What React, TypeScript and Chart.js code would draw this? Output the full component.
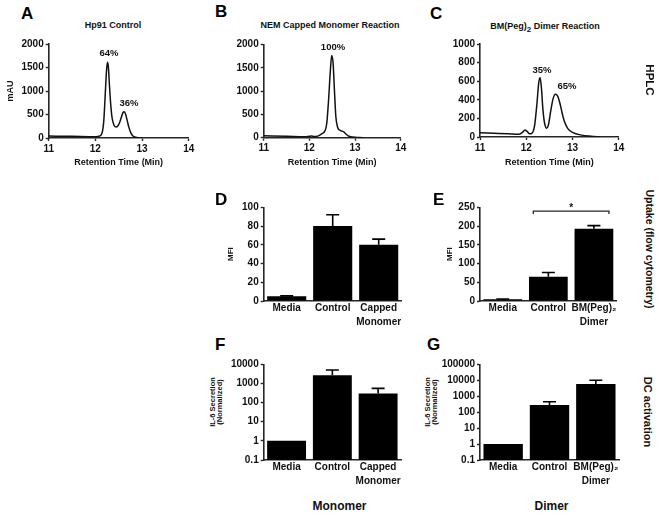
import React, { useEffect, useRef } from "react";
import { Chart, registerables } from "chart.js";

Chart.register(...registerables);

const FONT = "'Liberation Sans', Arial, Helvetica, sans-serif";
const INK = "#111111";
const AXIS = "#262626";

// ---------- HPLC traces (retention time in min, absorbance in mAU) ----------
const aTime = [11.0, 11.5, 12.0, 12.1, 12.15, 12.18, 12.21, 12.24, 12.26, 12.28, 12.3, 12.33, 12.36, 12.4, 12.44, 12.48, 12.52, 12.56, 12.59, 12.62, 12.65, 12.68, 12.72, 12.76, 12.8, 12.86, 12.95, 13.0];
const aMAU = [40, 35, 28, 45, 130, 360, 900, 1450, 1610, 1500, 1150, 700, 420, 270, 235, 255, 330, 450, 540, 560, 500, 380, 220, 110, 50, 15, 3, 0];

const bTime = [11.0, 11.5, 11.9, 12.0, 12.05, 12.1, 12.2, 12.28, 12.33, 12.38, 12.42, 12.46, 12.49, 12.52, 12.55, 12.58, 12.62, 12.67, 12.72, 12.76, 12.8, 12.85, 12.95, 13.1, 13.2];
const bMAU = [40, 30, 20, 30, 35, 25, 40, 90, 130, 300, 800, 1450, 1770, 1600, 1000, 450, 220, 160, 140, 120, 80, 40, 15, 5, 0];

const cTime = [11.0, 11.3, 11.6, 11.85, 11.92, 11.97, 12.02, 12.07, 12.12, 12.18, 12.23, 12.27, 12.3, 12.33, 12.36, 12.4, 12.44, 12.48, 12.53, 12.58, 12.63, 12.68, 12.73, 12.78, 12.83, 12.9, 13.0, 13.2, 13.4, 13.6];
const cMAU = [45, 40, 35, 30, 50, 75, 60, 35, 40, 120, 350, 580, 640, 520, 300, 140, 95, 130, 280, 410, 460, 440, 360, 250, 160, 90, 50, 20, 8, 0];

// ---------- Uptake (MFI) ----------
const monomerCats = [["Media"], ["Control"], ["Capped", "Monomer"]];
const dimerCats = [["Media"], ["Control"], ["BM(Peg)\u2082", "Dimer"]];
const dMFI = [5, 80, 60];
const dErr = [0.5, 12, 6];
const eMFI = [5, 65, 193];
const eErr = [0.5, 11, 8];
const eBracket = { from: 1, to: 2, value: 240, label: "*" };

// ---------- IL-6 secretion (normalized) ----------
const fIL6 = [1, 2700, 300];
const fErr = [0, 2300, 250];
const gIL6 = [1, 280, 5800];
const gErr = [0, 170, 4200];
const fTicks = [0.1, 1, 10, 100, 1000, 10000];
const fTickLabels = ["0.1", "1", "10", "100", "1000", "10000"];
const gTicks = [0.1, 1, 10, 100, 1000, 10000, 100000];
const gTickLabels = ["0.1", "1", "10", "100", "1000", "10000", "100000"];

// ---------- peak annotations ----------
const peakLabelsA = ["64%", "36%"];
const peakLabelsB = ["100%"];
const peakLabelsC = ["35%", "65%"];

type Dims = { yWidth: number; xHeight: number; padding: any };

const tickFont = { family: FONT, size: 10, weight: "bold" as const };
const titleFont = { family: FONT, size: 9, weight: "bold" as const };
const plain = (v: any) => String(v);

function axisBase() {
  return {
    grid: { display: true, drawOnChartArea: false, drawTicks: true, tickLength: 3, tickColor: AXIS, tickWidth: 1.4 },
    border: { display: true, color: AXIS, width: 1.6 },
  };
}

function lineConfig(xs: number[], ys: number[], yMax: number, yStep: number, yTitle: string | null, d: Dims): any {
  return {
    type: "line",
    data: {
      datasets: [
        {
          data: xs.map((x, i) => ({ x, y: ys[i] })),
          borderColor: INK,
          borderWidth: 1.5,
          pointRadius: 0,
          fill: false,
          cubicInterpolationMode: "monotone",
        },
      ],
    },
    options: {
      responsive: false,
      animation: false,
      devicePixelRatio: 1,
      layout: { padding: d.padding },
      plugins: { legend: { display: false }, tooltip: { enabled: false } },
      scales: {
        x: {
          type: "linear",
          min: 11,
          max: 14,
          ...axisBase(),
          ticks: { stepSize: 1, font: tickFont, color: INK, padding: 2, maxRotation: 0, callback: plain },
          title: { display: true, text: "Retention Time (Min)", font: titleFont, color: INK, padding: 0 },
          afterFit: (s: any) => {
            s.height = d.xHeight;
          },
        },
        y: {
          type: "linear",
          min: 0,
          max: yMax,
          ...axisBase(),
          ticks: { stepSize: yStep, font: tickFont, color: INK, padding: 2, callback: plain },
          title: { display: !!yTitle, text: yTitle || "", font: titleFont, color: INK, padding: 0 },
          afterFit: (s: any) => {
            s.width = d.yWidth;
          },
        },
      },
    },
  };
}

function errorBarPlugin(vals: number[], errs: number[]) {
  return {
    id: "errbars",
    afterDatasetsDraw(chart: any) {
      const ctx = chart.ctx;
      const meta = chart.getDatasetMeta(0);
      const ys = chart.scales.y;
      ctx.save();
      ctx.strokeStyle = "#000";
      ctx.lineWidth = 1.6;
      meta.data.forEach((el: any, i: number) => {
        if (!errs[i]) return;
        const top = ys.getPixelForValue(vals[i] + errs[i]);
        const base = ys.getPixelForValue(vals[i]);
        const half = 6.5;
        ctx.beginPath();
        ctx.moveTo(el.x, base);
        ctx.lineTo(el.x, top);
        ctx.moveTo(el.x - half, top);
        ctx.lineTo(el.x + half, top);
        ctx.stroke();
      });
      ctx.restore();
    },
  };
}

function bracketPlugin(br: { from: number; to: number; value: number; label: string }) {
  return {
    id: "bracket",
    afterDatasetsDraw(chart: any) {
      const ctx = chart.ctx;
      const xs = chart.scales.x;
      const ys = chart.scales.y;
      const step = xs.getPixelForValue(1) - xs.getPixelForValue(0);
      const x1 = xs.getPixelForValue(br.from) - step * 0.33;
      const x2 = xs.getPixelForValue(br.to) + step * 0.33;
      const y = ys.getPixelForValue(br.value);
      ctx.save();
      ctx.strokeStyle = AXIS;
      ctx.lineWidth = 1.3;
      ctx.beginPath();
      ctx.moveTo(x1, y + 3);
      ctx.lineTo(x1, y);
      ctx.lineTo(x2, y);
      ctx.lineTo(x2, y + 3);
      ctx.stroke();
      ctx.fillStyle = INK;
      ctx.font = `bold 10px ${FONT}`;
      ctx.textAlign = "center";
      ctx.textBaseline = "middle";
      ctx.fillText(br.label, (x1 + x2) / 2, y - 3);
      ctx.restore();
    },
  };
}

function barConfig(
  cats: string[][],
  vals: number[],
  errs: number[],
  yScale: any,
  yTitle: string | null,
  d: Dims,
  extra: any[] = []
): any {
  return {
    type: "bar",
    data: {
      labels: cats,
      datasets: [
        {
          data: vals,
          backgroundColor: "#000",
          borderWidth: 0,
          barPercentage: 0.85,
          categoryPercentage: 1,
        },
      ],
    },
    plugins: [errorBarPlugin(vals, errs), ...extra],
    options: {
      responsive: false,
      animation: false,
      devicePixelRatio: 1,
      layout: { padding: d.padding },
      plugins: { legend: { display: false }, tooltip: { enabled: false } },
      scales: {
        x: {
          type: "category",
          offset: true,
          grid: { display: true, drawOnChartArea: false, drawTicks: false },
          border: { display: true, color: AXIS, width: 1.6 },
          ticks: {
            font: { ...tickFont, lineHeight: 1.35 },
            color: INK,
            padding: 0.5,
            autoSkip: false,
            maxRotation: 0,
          },
          afterFit: (s: any) => {
            s.height = d.xHeight;
          },
        },
        y: {
          ...yScale,
          ...axisBase(),
          title: { display: !!yTitle, text: yTitle || "", font: { family: FONT, size: 8, weight: "bold" }, color: INK, padding: 0 },
          afterFit: (s: any) => {
            s.width = d.yWidth;
          },
        },
      },
    },
  };
}

function logScale(min: number, max: number, ticks: number[], labels: string[]) {
  return {
    type: "logarithmic",
    min,
    max,
    afterBuildTicks: (s: any) => {
      s.ticks = ticks.map((v) => ({ value: v }));
    },
    ticks: {
      font: tickFont,
      color: INK,
      padding: 2,
      autoSkip: false,
      callback: (v: any) => {
        const i = ticks.findIndex((t) => Math.abs(t - v) < t * 1e-6);
        return i >= 0 ? labels[i] : "";
      },
    },
  };
}

function linScale(max: number, step: number) {
  return {
    type: "linear",
    min: 0,
    max,
    ticks: { stepSize: step, font: tickFont, color: INK, padding: 2, callback: plain },
  };
}

type Box = [number, number, number, number];

function ChartPanel({ box, area, build }: { box: Box; area: Box; build: (d: Dims) => any }) {
  const ref = useRef<HTMLCanvasElement>(null);
  const [L, T, R, B] = box;
  useEffect(() => {
    const [cl, ct, cr, cb] = area;
    const dims: Dims = {
      yWidth: cl - L,
      xHeight: B - cb,
      padding: { top: ct - T, right: R - cr, left: 0, bottom: 0 },
    };
    const chart = new Chart(ref.current as HTMLCanvasElement, build(dims));
    return () => chart.destroy();
  }, []);
  return (
    <canvas
      ref={ref}
      width={R - L}
      height={B - T}
      style={{ position: "absolute", left: L, top: T, width: R - L, height: B - T }}
    />
  );
}

function Txt({
  x,
  y,
  size,
  rotate = 0,
  children,
  weight = "bold",
  lh,
}: {
  x: number;
  y: number;
  size: number;
  rotate?: number;
  children: any;
  weight?: string;
  lh?: string;
}) {
  return (
    <div
      style={{
        position: "absolute",
        left: x,
        top: y,
        transform: `translate(-50%, -50%) rotate(${rotate}deg)`,
        fontFamily: FONT,
        fontWeight: weight as any,
        fontSize: size,
        lineHeight: lh || "1.15",
        whiteSpace: "nowrap",
        color: INK,
        textAlign: "center",
      }}
    >
      {children}
    </div>
  );
}

function Letter({ x, capTop, ch }: { x: number; capTop: number; ch: string }) {
  return (
    <div
      style={{
        position: "absolute",
        left: x,
        top: capTop - 2.2,
        fontFamily: FONT,
        fontWeight: "bold",
        fontSize: 17,
        lineHeight: "17px",
        color: "#000",
      }}
    >
      {ch}
    </div>
  );
}

export default function App() {
  return (
    <div style={{ position: "absolute", left: 0, top: 0, width: 659, height: 517, background: "#fff", overflow: "hidden" }}>
      {/* HPLC row */}
      <ChartPanel box={[5, 34, 201, 168]} area={[48.7, 44, 188.7, 138]} build={(d) => lineConfig(aTime, aMAU, 2000, 500, "mAU", d)} />
      <ChartPanel box={[220, 34, 413, 168]} area={[263.7, 44.7, 400.7, 137.7]} build={(d) => lineConfig(bTime, bMAU, 2000, 500, null, d)} />
      <ChartPanel box={[436, 34, 631, 168]} area={[480, 44, 618.7, 137]} build={(d) => lineConfig(cTime, cMAU, 1000, 200, null, d)} />

      {/* Uptake row */}
      <ChartPanel
        box={[226, 198, 410, 335]}
        area={[263.7, 207.3, 401.7, 301]}
        build={(d) => barConfig(monomerCats, dMFI, dErr, linScale(100, 20), "MFI", d)}
      />
      <ChartPanel
        box={[445, 198, 626, 335]}
        area={[480, 207.3, 616.7, 301]}
        build={(d) => barConfig(dimerCats, eMFI, eErr, linScale(250, 50), "MFI", d, [bracketPlugin(eBracket)])}
      />

      {/* DC activation row */}
      <ChartPanel
        box={[226, 355, 410, 492]}
        area={[263.7, 364.3, 401, 460]}
        build={(d) => barConfig(monomerCats, fIL6, fErr, logScale(0.1, 10000, fTicks, fTickLabels), null, d)}
      />
      <ChartPanel
        box={[440, 355, 628, 492]}
        area={[480, 364.3, 619, 460]}
        build={(d) => barConfig(dimerCats, gIL6, gErr, logScale(0.1, 100000, gTicks, gTickLabels), null, d)}
      />

      {/* Panel letters */}
      <Letter x={21} capTop={7.3} ch="A" />
      <Letter x={215} capTop={5} ch="B" />
      <Letter x={430} capTop={6.7} ch="C" />
      <Letter x={215} capTop={193} ch="D" />
      <Letter x={433} capTop={193} ch="E" />
      <Letter x={215} capTop={338} ch="F" />
      <Letter x={427} capTop={338} ch="G" />

      {/* Panel titles */}
      <Txt x={113} y={25} size={9}>Hp91 Control</Txt>
      <Txt x={330} y={25} size={9}>NEM Capped Monomer Reaction</Txt>
      <Txt x={545} y={26} size={9}>
        BM(Peg)<span style={{ fontSize: 8, position: "relative", top: 3 }}>2</span> Dimer Reaction
      </Txt>

      {/* Peak labels */}
      <Txt x={109} y={53} size={9.5}>{peakLabelsA[0]}</Txt>
      <Txt x={129} y={103} size={9.5}>{peakLabelsA[1]}</Txt>
      <Txt x={333} y={47} size={9.5}>{peakLabelsB[0]}</Txt>
      <Txt x={542} y={70} size={9.5}>{peakLabelsC[0]}</Txt>
      <Txt x={567} y={86} size={9.5}>{peakLabelsC[1]}</Txt>

      {/* IL-6 y titles */}
      <Txt x={216} y={402} size={7.5} rotate={-90} lh="7px">
        IL-6 Secretion
        <br />
        (Normalized)
      </Txt>
      <Txt x={431} y={402} size={7.5} rotate={-90} lh="7px">
        IL-6 Secretion
        <br />
        (Normalized)
      </Txt>

      {/* Row labels */}
      <Txt x={649} y={80} size={11.5} rotate={90}>HPLC</Txt>
      <Txt x={650} y={249} size={10.5} rotate={90}>Uptake (flow cytometry)</Txt>
      <Txt x={648} y={412} size={11} rotate={90}>DC activation</Txt>

      {/* Column labels */}
      <Txt x={339.5} y={507} size={12}>Monomer</Txt>
      <Txt x={551.5} y={507} size={12}>Dimer</Txt>
    </div>
  );
}
